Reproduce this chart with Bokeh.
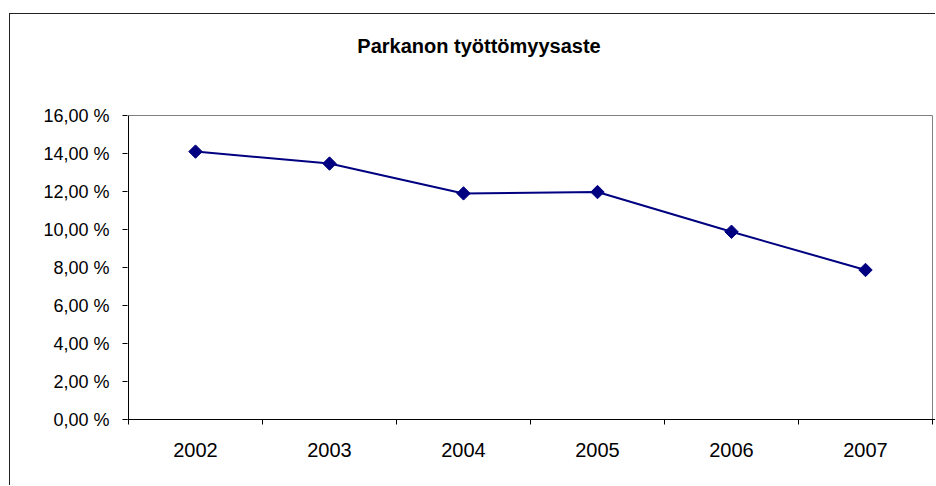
import math
from bokeh.plotting import figure
from bokeh.models import FixedTicker, Range1d, ColumnDataSource, Label
from bokeh.embed import file_html
from bokeh.resources import INLINE

# Data
years = ["2002", "2003", "2004", "2005", "2006", "2007"]
rates = [14.1, 13.47, 11.9, 11.97, 9.88, 7.87]
y_ticks = [0, 2, 4, 6, 8, 10, 12, 14, 16]
y_tick_labels = ["0,00 %", "2,00 %", "4,00 %", "6,00 %", "8,00 %", "10,00 %", "12,00 %", "14,00 %", "16,00 %"]
title_text = "Parkanon työttömyysaste"
y_max = 16

# Layout constants (pixels)
PX_X = 134.0      # pixels per category
PX_Y = 19.0       # pixels per 1 %
FRAME_H = 405     # canvas height minus bottom border
n = len(years)

xpos = list(range(1, n + 1))
src = ColumnDataSource(dict(x=xpos, y=rates))

x0, x1 = 0.5, n + 0.5
p = figure(width=926, height=472, output_backend="svg", toolbar_location=None,
           x_range=Range1d(x0 - 1 / PX_X, x1 + 4 / PX_X),
           y_range=Range1d(0, FRAME_H / PX_Y),
           min_border_left=117, min_border_right=0, min_border_top=0, min_border_bottom=67)
p.margin = (13, 0, 0, 9)
p.styles = {"border-left": "1px solid #222", "border-top": "1px solid #222"}
p.background_fill_color = "white"
p.border_fill_color = "white"
p.outline_line_color = None
p.xgrid.visible = False
p.ygrid.visible = False

# plot-area box: gray top/right, black left axis line
p.segment(x0=[x0, x1], y0=[y_max, 0], x1=[x1, x1], y1=[y_max, y_max],
          line_color="#808080", line_width=1)
p.segment(x0=[x0], y0=[0], x1=[x0], y1=[y_max], line_color="black", line_width=1)

p.line("x", "y", source=src, line_color="#000080", line_width=2)
p.scatter("x", "y", source=src, marker="square", angle=math.pi / 4, size=9.5,
          fill_color="#000080", line_color="#000080")

# X axis
xa = p.xaxis[0]
xa.ticker = FixedTicker(ticks=xpos, minor_ticks=[i + 0.5 for i in range(0, n + 1)])
xa.major_label_overrides = {x: y for x, y in zip(xpos, years)}
xa.major_tick_line_color = None
xa.major_tick_out = 0
xa.major_tick_in = 0
xa.minor_tick_line_color = "black"
xa.minor_tick_out = 5
xa.minor_tick_in = 0
xa.axis_line_color = "black"
xa.major_label_text_font = "Liberation Sans"
xa.major_label_text_font_size = "20px"
xa.major_label_text_color = "black"
xa.major_label_standoff = 18

# Y axis
ya = p.yaxis[0]
ya.ticker = FixedTicker(ticks=y_ticks, minor_ticks=[])
ya.major_label_overrides = {t: l for t, l in zip(y_ticks, y_tick_labels)}
ya.major_tick_line_color = "black"
ya.major_tick_out = 5
ya.major_tick_in = 0
ya.axis_line_color = None
ya.major_label_text_font = "Liberation Sans"
ya.major_label_text_font_size = "18px"
ya.major_label_text_color = "black"
ya.major_label_standoff = 13

# Title (baseline ~70 px above the plot area, centred at page x ~478)
title = Label(x=x0 + 350.5 / PX_X, y=y_max + 70 / PX_Y, text=title_text,
              text_align="center", text_baseline="alphabetic",
              text_font="Liberation Sans", text_font_style="bold",
              text_font_size="20px", text_color="black")
p.add_layout(title)

open("out.html", "w").write(file_html(p, INLINE))
